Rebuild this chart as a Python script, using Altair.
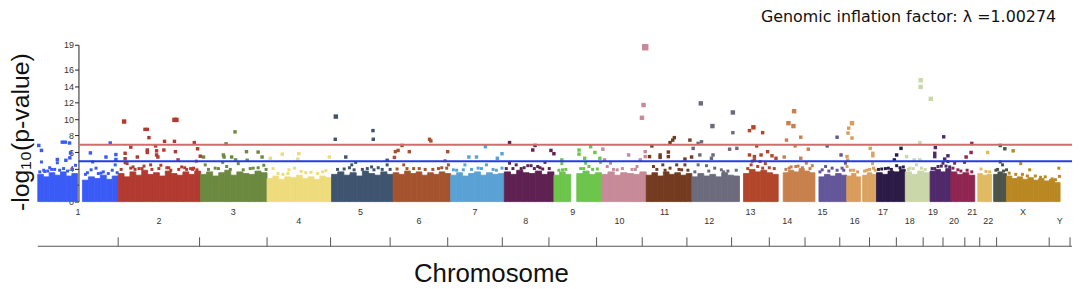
import altair as alt
import pandas as pd

# ---------------- data ----------------
chroms = ["1", "2", "3", "4", "5", "6", "7", "8", "9", "10", "11", "12",
          "13", "14", "15", "16", "17", "18", "19", "20", "21", "22", "23", "X"]
colors = ["#3b5bf6", "#b23a30", "#6b8a40", "#eedc7c", "#3e546f", "#a5532e",
          "#5aa2d5", "#5f2052", "#6dc54c", "#c68a98", "#743b20", "#6b6b7d",
          "#b2462a", "#c8804c", "#645799", "#d99c5b", "#daa35f", "#2b1b46",
          "#c9d7a9", "#50296b", "#8f2550", "#e1ba62", "#4c5349", "#b98822"]

# dense background of each chromosome: span and the ragged top profile (-log10 p)
blk_chrom = ["1", "1", "2", "3", "4", "5", "6", "7", "8", "9", "9", "10", "11", "12",
             "13", "14", "15", "16", "17", "18", "19", "20", "21", "22", "23", "X"]
blk_start = [38, 83, 119, 202, 269, 334, 396, 454, 508, 558, 581, 606, 651, 697,
             749, 789, 825, 853, 869, 883, 912, 937, 958, 985, 1001, 1014]
blk_end = [78, 119, 202, 269, 334, 396, 454, 508, 558, 575, 606, 651, 697, 745,
           784, 821, 853, 867, 883, 912, 937, 958, 982, 999, 1014, 1068]
blk_profile = [
    [3.3, 3.0, 3.5, 3.2, 3.6, 3.1, 3.4],
    [2.6, 3.0, 2.8, 3.2, 2.7, 3.1],
    [3.4, 3.0, 3.6, 3.2, 3.8, 3.3, 3.5, 3.1, 3.7, 3.4, 3.2, 3.6, 3.3, 3.7],
    [3.3, 3.6, 3.1, 3.5, 3.8, 3.2, 3.6, 3.4, 3.3, 3.7, 3.5],
    [2.8, 3.1, 2.7, 3.0, 2.9, 3.2, 2.8, 3.0, 2.7, 3.1, 2.9],
    [3.3, 3.6, 3.2, 3.5, 3.1, 3.7, 3.4, 3.2, 3.6, 3.3],
    [3.5, 3.3, 3.7, 3.4, 3.6, 3.2, 3.5, 3.3, 3.6, 3.4],
    [3.2, 3.5, 3.1, 3.4, 3.6, 3.2, 3.5, 3.3, 3.4],
    [3.6, 3.3, 3.8, 3.5, 3.4, 3.7, 3.3, 3.6],
    [3.2, 3.6, 3.3],
    [3.4, 3.7, 3.3, 3.5],
    [3.3, 3.6, 3.2, 3.5, 3.4, 3.3, 3.6],
    [3.2, 3.5, 3.1, 3.6, 3.3, 3.5, 3.2, 3.4],
    [3.0, 3.4, 3.1, 3.3, 3.0, 3.5, 3.2, 3.1],
    [3.4, 3.9, 3.6, 3.8, 3.5, 3.3],
    [3.5, 3.8, 3.6, 4.0, 3.7, 3.5],
    [3.0, 3.3, 3.1, 3.4, 3.2],
    [3.1, 3.4, 3.0],
    [3.2, 3.5, 3.3],
    [3.5, 3.3, 3.7, 3.6, 3.9],
    [3.6, 3.3, 3.7, 3.5],
    [3.7, 3.9, 3.6, 4.0],
    [3.6, 3.3, 3.5, 3.2],
    [3.4, 3.2, 3.3],
    [3.3, 3.6, 3.4],
    [3.1, 2.8, 3.0, 2.7, 2.9, 2.6, 2.8, 2.5, 2.7, 2.3],
]

chr1_pts = [(39, 6.8), (41.7, 6.2), (41.7, 4.8), (57.7, 5.1), (57.7, 4.7), (62.7, 7.2), (65.7, 7.2),
            (70, 7.1), (66.3, 5.0), (70.3, 5.3), (71, 5.9), (76, 4.4), (50, 4.1), (55, 3.9), (45, 3.65),
            (91, 5.9), (93.3, 4.8), (96.7, 4.05), (106.7, 5.4), (111, 7.1), (116.7, 5.7), (116.7, 5.1),
            (101.7, 3.45), (91.7, 3.85), (116, 4.45), (40, 3.6), (44, 3.8), (48, 3.7), (52, 3.9),
            (60, 3.8), (64, 4.0), (68, 3.7), (73, 3.9), (86, 3.3), (88, 3.5), (99, 3.4), (104, 3.6),
            (109, 3.4), (113, 3.8), (118, 3.5)]
chr2_pts = [(125, 9.7), (146, 8.75), (148.3, 8.75), (150, 7.75), (131.7, 6.6), (138.3, 5.4), (126, 5.85),
            (126, 5.2), (126, 4.7), (156.7, 6.75), (148.3, 6.25), (148.3, 5.95), (157.7, 6.15),
            (157.7, 5.65), (159, 5.4), (165, 6.25), (165.7, 7.3), (175.7, 9.9), (177.7, 9.9),
            (175.7, 7.3), (176.7, 6.05), (179.3, 5.05), (151.7, 4.45), (131.7, 4.05), (195.7, 7.15),
            (199, 6.4), (201.7, 5.5), (197.7, 4.9), (195, 4.05), (198.3, 3.85), (128, 4.6), (134, 4.2),
            (140, 4.0), (145, 4.3), (153, 3.9), (162, 4.4), (168, 4.1), (172, 3.8), (183, 4.2),
            (188, 3.9), (192, 4.0), (122, 3.9), (136, 3.9), (143, 4.0), (160, 4.0), (170, 4.1),
            (180, 3.9), (186, 4.1), (194, 3.9)]
chr3_pts = [(236.7, 8.45), (227.7, 7.0), (205, 5.4), (225, 5.65), (225.7, 5.4), (224.3, 4.75),
            (233.3, 5.4), (237.3, 5.05), (248.3, 6.05), (260, 6.0), (264, 5.4), (249, 5.0), (240, 4.6),
            (265.7, 4.4), (216.7, 4.05), (206.7, 4.45), (255, 4.05), (245, 3.85), (228.3, 4.25),
            (210, 3.9), (220, 4.0), (232, 3.9), (252, 4.0), (260, 4.1), (268, 3.9)]
chr4_pts = [(272.3, 5.25), (284.3, 5.75), (301, 5.8), (300, 5.15), (331.7, 5.4), (275, 4.0), (291, 3.85),
            (296.7, 4.05), (303.3, 3.65), (313.3, 3.55), (328.3, 3.75), (290, 3.4), (280, 3.4),
            (308, 3.5), (320, 3.4), (325, 3.6), (285, 3.3)]
chr5_pts = [(338.3, 10.3), (337.7, 7.55), (375.7, 8.6), (376, 7.55), (348.3, 5.4), (358.3, 4.75),
            (354.3, 4.45), (390, 5.0), (390, 4.45), (346.7, 3.95), (356.7, 3.85), (374.3, 4.2),
            (376.7, 3.85), (365, 3.9), (385, 3.9), (340, 3.9), (352, 4.1), (370, 4.0), (381, 4.1),
            (393, 3.9)]
chr6_pts = [(405, 6.8), (398.3, 6.05), (401, 6.2), (397.3, 5.35), (412.3, 6.05), (432.7, 7.55),
            (434, 7.35), (451, 6.05), (448.3, 4.95), (451.7, 4.45), (406.7, 4.45), (400, 3.95),
            (416.7, 4.0), (422.3, 4.0), (428.3, 3.9), (441.7, 4.0), (450, 4.05), (410, 4.0),
            (436, 3.9), (445, 4.1)]
chr7_pts = [(468.3, 4.45), (472.3, 5.4), (480, 5.4), (456.7, 3.85), (466.7, 3.85), (481.7, 4.05),
            (489, 6.65), (501, 5.25), (505.7, 5.8), (490, 4.45), (505.7, 4.05), (496.7, 3.9),
            (460, 3.8), (475, 3.9), (485, 4.0), (500, 3.8)]
chr8_pts = [(513.3, 7.15), (539, 6.8), (536.7, 6.25), (555, 6.2), (558, 5.8), (549, 4.75), (513.3, 4.65),
            (520, 4.45), (531.7, 4.35), (535, 4.35), (541.7, 4.25), (516.7, 4.0), (525, 4.0),
            (538.3, 4.0), (546.7, 3.95), (553.3, 4.0), (510, 4.0), (528, 4.1), (544, 4.1)]
chr9_pts = [(566, 5.05), (566, 4.6), (583.3, 6.25), (583.3, 5.75), (595, 6.65), (599.3, 5.95),
            (589, 5.25), (604.3, 5.25), (590, 4.65), (605, 4.75), (593.3, 4.25), (566.7, 3.85),
            (585, 4.0), (601.7, 3.95), (563, 3.8), (570, 3.9), (588, 4.0), (597, 3.9)]
chr10_pts = [(607.3, 6.35), (609, 5.05), (633.3, 5.65), (611.7, 4.25), (621.7, 3.85), (650, 18.7),
             (648.3, 11.7), (646.7, 10.15), (650, 6.05), (650, 5.45), (645, 5.05), (641.7, 4.25),
             (636.7, 3.9), (615, 4.65), (618, 3.9), (627, 4.0), (640, 3.9)]
chr11_pts = [(656.7, 6.75), (654.3, 5.45), (665, 5.65), (665, 5.35), (673.3, 6.0), (673.3, 5.45),
             (675, 7.15), (677.7, 7.45), (679.3, 7.75), (690, 5.15), (695, 7.45), (696.7, 5.4),
             (658.3, 4.25), (667.7, 4.45), (675, 4.05), (681.7, 4.45), (686.7, 3.85), (690, 4.45),
             (661.7, 3.9), (670, 3.8), (684, 3.9), (693, 3.8)]
chr12_pts = [(706, 11.9), (717.7, 9.15), (738.3, 10.8), (738.3, 8.35), (703.3, 7.05), (706.7, 7.25),
             (698.3, 6.45), (705, 5.65), (716.7, 5.25), (718.3, 5.65), (735, 6.35), (742.3, 6.45),
             (703.3, 4.45), (711.7, 4.35), (720, 4.05), (726.7, 3.85), (733.3, 3.7), (741.7, 3.8),
             (700, 3.6), (714, 3.7), (729, 3.6)]
chr13_pts = [(755, 8.6), (759, 9.0), (768.3, 8.35), (762.3, 6.75), (755, 5.65), (760, 5.45),
             (766.7, 5.65), (773.3, 6.05), (777.7, 5.55), (781.7, 5.25), (756.7, 4.45), (763.3, 4.25),
             (768.3, 4.05), (775, 4.1), (753.3, 4.0), (760, 5.05), (765.7, 4.85), (771, 4.6),
             (758, 4.9), (780, 4.0)]
chr14_pts = [(800, 10.95), (794.3, 9.5), (799.3, 9.15), (792.3, 7.45), (806.7, 7.8), (801, 6.75),
             (814.3, 6.35), (790, 5.4), (806.7, 5.25), (812.3, 4.65), (818.3, 4.35), (801.7, 4.25),
             (795, 4.05), (808.3, 4.1), (791.7, 3.9), (797, 4.2), (804, 4.3), (816, 4.0)]
chr15_pts = [(833.3, 6.75), (843.3, 7.8), (847.3, 5.65), (828.3, 3.85), (831.7, 4.25), (838.3, 4.05),
             (843.3, 3.8), (848.3, 4.05), (851.7, 4.65), (826, 3.6), (835, 3.7), (850, 3.8)]
chr16_pts = [(858.3, 9.5), (855, 8.9), (854.3, 8.3), (858.3, 7.7), (853.3, 5.45), (854, 5.0),
             (853.3, 4.25), (856.7, 3.8), (860, 3.8), (864, 3.6)]
chr17_pts = [(876.7, 6.45), (879.3, 5.85), (879.3, 5.55), (879, 4.6), (880, 4.05), (873.3, 3.8),
             (881.7, 3.8), (871, 3.7), (876, 3.9)]
chr18_pts = [(907.7, 6.45), (903.3, 5.65), (901, 5.05), (895, 4.05), (888.3, 3.95), (903.3, 4.35),
             (906.7, 4.1), (885, 3.9), (892, 4.0), (898, 3.9), (910, 4.2)]
chr19_pts = [(927.5, 14.7), (927.5, 13.9), (937.7, 12.45), (926.7, 7.15), (913.3, 5.45), (921, 5.05),
             (926.7, 5.05), (916.7, 4.05), (923.3, 4.45), (928.3, 4.05), (915, 3.9), (920, 4.0),
             (932, 3.9)]
chr20_pts = [(950.7, 7.85), (942.3, 6.55), (941.7, 5.85), (941.7, 5.45), (955, 5.55), (951.7, 5.15),
             (950, 4.65), (945, 4.25), (955, 4.85), (941.7, 4.0), (948.3, 4.3), (956.7, 4.2),
             (939, 4.0), (953, 4.3)]
chr21_pts = [(979, 7.05), (978.3, 5.95), (973.3, 5.4), (971.7, 4.75), (961.7, 4.65), (965, 3.85),
             (974.3, 3.8), (960, 4.05), (968, 3.7), (979, 3.6)]
chr22_pts = [(995, 5.95), (988.3, 3.95), (993.3, 3.65), (997, 3.6)]
chr23_pts = [(1007.7, 6.8), (1012.3, 6.4), (1007.7, 4.8), (1010, 4.45), (1003.3, 3.8), (1014, 3.85),
             (1005, 3.9), (1011, 3.7)]
chrX_pts = [(1020.7, 6.15), (1028.3, 4.6), (1037.3, 3.85), (1066.7, 4.05), (1067.3, 3.05),
            (1060, 2.75), (1063.3, 2.65), (1016.7, 3.45), (1023.3, 3.3), (1035, 3.1), (1048.3, 2.95),
            (1030, 3.3), (1043, 3.1), (1053, 3.0)]

all_pts = [chr1_pts, chr2_pts, chr3_pts, chr4_pts, chr5_pts, chr6_pts, chr7_pts, chr8_pts,
           chr9_pts, chr10_pts, chr11_pts, chr12_pts, chr13_pts, chr14_pts, chr15_pts, chr16_pts,
           chr17_pts, chr18_pts, chr19_pts, chr20_pts, chr21_pts, chr22_pts, chr23_pts, chrX_pts]

# chromosome axis (boundaries and labels)
axis_bounds = [38, 119, 201, 269, 333, 393, 451, 506, 553, 601, 647, 692, 737, 775, 811, 846,
               876, 903, 930, 950, 972, 987, 1004, 1057, 1078]
axis_labels = ["1", "2", "3", "4", "5", "6", "7", "8", "9", "10", "11", "12", "13", "14", "15",
               "16", "17", "18", "19", "20", "21", "22", "X", "Y"]

genome_wide = 6.9
suggestive = 4.9
y_ticks = [0, 2, 4, 6, 8, 10, 12, 14, 16, 19]
lambda_text = "Genomic inflation factor: \u03bb =1.00274"

# ---------------- tables ----------------
seg_rows = []
for c, s, e, prof in zip(blk_chrom, blk_start, blk_end, blk_profile):
    n = len(prof)
    w = (e - s) / n
    for i, top in enumerate(prof):
        seg_rows.append((c, s + i * w, s + (i + 1) * w, top, 0.0))
df_blk = pd.DataFrame(seg_rows, columns=["chrom", "start", "end", "top", "base"])

rows = []
for c, lst in zip(chroms, all_pts):
    for p, v in lst:
        rows.append((c, p, v))
df_pts = pd.DataFrame(rows, columns=["chrom", "pos", "value"])


def tier(v):
    if v >= 17:
        return 42
    if v >= 9:
        return 20
    if v >= 5:
        return 12
    return 9


df_pts["sz"] = df_pts["value"].apply(tier)

mids = [(a + b) / 2 for a, b in zip(axis_bounds[:-1], axis_bounds[1:])]
df_lab = pd.DataFrame({"pos": mids, "label": axis_labels})
df_lab1 = df_lab.iloc[0::2]
df_lab2 = df_lab.iloc[1::2]
df_ticks = pd.DataFrame({"pos": axis_bounds[1:]})

# ---------------- chart ----------------
xs = alt.Scale(domain=[38, 1080], nice=False, zero=False)
ys = alt.Scale(domain=[0, 19], nice=False, zero=True)
cs = alt.Scale(domain=chroms, range=colors)
yaxis = alt.Axis(values=y_ticks, offset=-41, title=None, grid=False, domainColor="#222",
                 tickColor="#222", tickSize=4, labelFontSize=9, labelFont="Liberation Sans",
                 labelColor="#333", labelPadding=1)

blocks = alt.Chart(df_blk).mark_rect(strokeWidth=0.8).encode(
    x=alt.X("start:Q", scale=xs, axis=None),
    x2="end:Q",
    y=alt.Y("top:Q", scale=ys, axis=yaxis),
    y2="base:Q",
    color=alt.Color("chrom:N", scale=cs, legend=None),
    stroke=alt.Stroke("chrom:N", scale=cs, legend=None),
)

points = alt.Chart(df_pts).mark_square(opacity=1).encode(
    x=alt.X("pos:Q", scale=xs, axis=None),
    y=alt.Y("value:Q", scale=ys, axis=yaxis),
    size=alt.Size("sz:Q", scale=None),
    color=alt.Color("chrom:N", scale=cs, legend=None),
)

df_red = pd.DataFrame({"x0": [79], "x1": [1080], "value": [genome_wide]})
df_blue = pd.DataFrame({"x0": [79], "x1": [1080], "value": [suggestive]})
red = alt.Chart(df_red).mark_rule(color="#d26b6b", strokeWidth=2).encode(
    x=alt.X("x0:Q", scale=xs, axis=None), x2="x1:Q", y=alt.Y("value:Q", scale=ys, axis=yaxis))
blue = alt.Chart(df_blue).mark_rule(color="#1f3fe6", strokeWidth=2).encode(
    x=alt.X("x0:Q", scale=xs, axis=None), x2="x1:Q", y=alt.Y("value:Q", scale=ys, axis=yaxis))

df_base = pd.DataFrame({"x0": [38], "x1": [1080]})
baseline = alt.Chart(df_base).mark_rule(color="#555", strokeWidth=1).encode(
    x=alt.X("x0:Q", scale=xs, axis=None), x2="x1:Q", y=alt.value(203))
ticks = alt.Chart(df_ticks).mark_rule(color="#555", strokeWidth=1).encode(
    x=alt.X("pos:Q", scale=xs, axis=None), y=alt.value(194), y2=alt.value(203))

lab_style = dict(fontSize=9, font="Liberation Sans", color="#333", baseline="middle", align="center")
labels1 = alt.Chart(df_lab1).mark_text(**lab_style).encode(
    x=alt.X("pos:Q", scale=xs, axis=None), y=alt.value(169), text="label:N")
labels2 = alt.Chart(df_lab2).mark_text(**lab_style).encode(
    x=alt.X("pos:Q", scale=xs, axis=None), y=alt.value(178), text="label:N")

xtitle = alt.Chart(pd.DataFrame({"t": ["Chromosome"]})).mark_text(
    fontSize=26, font="Liberation Sans", color="#111", align="center", baseline="alphabetic"
).encode(x=alt.value(457), y=alt.value(239), text="t:N")

ytitle = alt.Chart(pd.DataFrame({"t": ["-log\u2081\u2080(p-value)"]})).mark_text(
    fontSize=25, font="Liberation Sans", color="#111", align="center", baseline="middle", angle=270
).encode(x=alt.value(-17), y=alt.value(88), text="t:N")

ltitle = alt.Chart(pd.DataFrame({"t": [lambda_text]})).mark_text(
    fontSize=16, font="DejaVu Sans", color="#111", align="right", baseline="alphabetic"
).encode(x=alt.value(1026), y=alt.value(-23), text="t:N")

chart = alt.layer(
    blocks, points, red, blue, baseline, ticks, labels1, labels2, xtitle, ytitle, ltitle
).properties(
    width=1042, height=158,
    autosize=alt.AutoSizeParams(type="none"),
    padding={"left": 30, "top": 36, "right": 4, "bottom": 85},
    background="white",
).configure_view(stroke=None)

chart.save("out.html", embed_options={"renderer": "svg", "actions": False})
